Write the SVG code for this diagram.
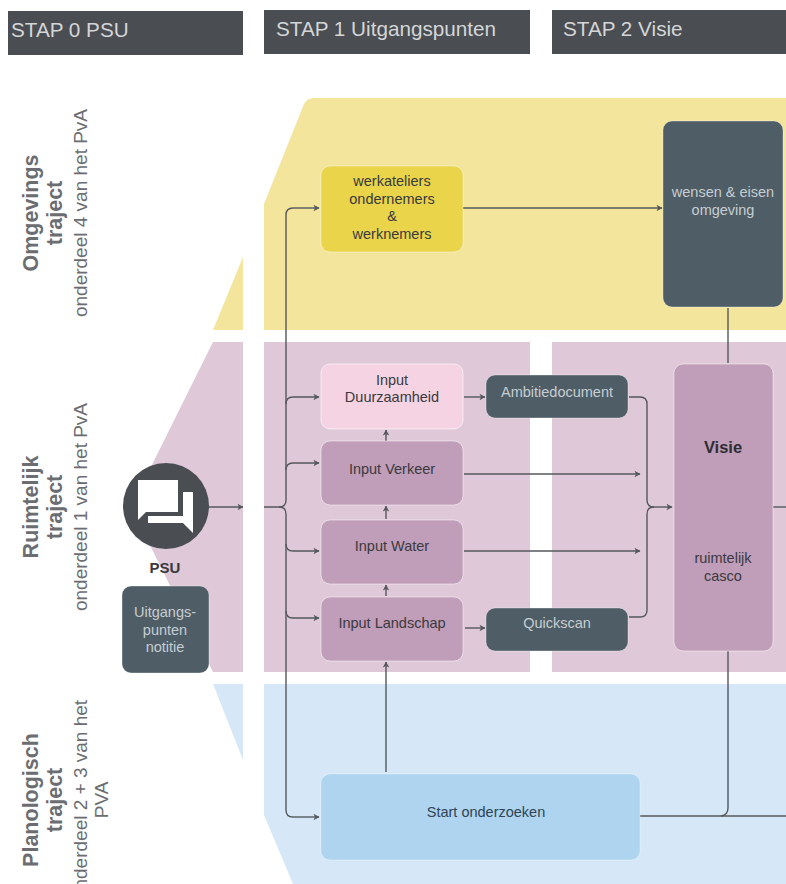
<svg xmlns="http://www.w3.org/2000/svg" width="786" height="884" viewBox="0 0 786 884">
<style>
text{font-family:"Liberation Sans",Arial,sans-serif;text-anchor:middle}
.hd{fill:#4a4d52}
.ht{font-size:20.7px;fill:#d4d6d8;text-anchor:start}
.t12{font-size:14.5px;fill:#3a3a3e}
.t12w{font-size:14.5px;fill:#c6cdd2}
.dark{fill:#4e5d66;stroke:#fff;stroke-opacity:.35}
.mauve{fill:#c09db8;stroke:#fff;stroke-opacity:.5}
.side1{font-size:21.5px;font-weight:bold;fill:#6b6d71}
.side2{font-size:19px;fill:#6b6d71}
.c{fill:none;stroke:#54585c;stroke-width:1.4}
</style>
<defs>
<marker id="a" markerWidth="8" markerHeight="8" refX="6.5" refY="4" orient="auto" markerUnits="userSpaceOnUse"><path d="M1 .8 L7 4 L1 7.2 L2.5 4Z" fill="#54585c"/></marker>
</defs>
<rect width="786" height="884" fill="#fff"/>
<g id="bands">
<path d="M243 257L243 330L213 330Z" fill="#f3e59c"/>
<path d="M264 204L304 104Q307 98 314 98L786 98L786 330L264 330Z" fill="#f3e59c"/>
<path d="M213 342L243 342L243 672L213 672L131 507Z" fill="#dfc8d8"/>
<rect x="264" y="342" width="266" height="330" fill="#dfc8d8"/>
<rect x="552" y="342" width="234" height="330" fill="#dfc8d8"/>
<path d="M213 684L243 684L243 760Z" fill="#d6e8f7"/>
<path d="M264 684L786 684L786 884L293 884L264 815Z" fill="#d6e8f7"/>
</g>
<g id="headers">
<g id="stap0"><rect class="hd" x="8" y="11" width="235" height="44"/><text class="ht" x="11" y="37">STAP 0 PSU</text></g>
<g id="stap1"><rect class="hd" x="264" y="10" width="266" height="44"/><text class="ht" x="276" y="36">STAP 1 Uitgangspunten</text></g>
<g id="stap2"><rect class="hd" x="552" y="10" width="234" height="44"/><text class="ht" x="563" y="36">STAP 2 Visie</text></g>
</g>
<g id="labels">
<g id="label-omgevings" transform="translate(0,213) rotate(-90)"><text class="side1" y="38">Omgevings</text><text class="side1" y="62">traject</text><text class="side2" y="87">onderdeel 4 van het PvA</text></g>
<g id="label-ruimtelijk" transform="translate(0,507) rotate(-90)"><text class="side1" y="38">Ruimtelijk</text><text class="side1" y="62">traject</text><text class="side2" y="87">onderdeel 1 van het PvA</text></g>
<g id="label-planologisch" transform="translate(0,800) rotate(-90)"><text class="side1" y="38">Planologisch</text><text class="side1" y="62">traject</text><text class="side2" y="87">onderdeel 2 + 3 van het</text><text class="side2" y="108">PVA</text></g>
</g>
<g id="connectors" class="c">
<path class="c" marker-end="url(#a)" d="M209 507L243 507"/>
<path class="c" d="M264 507L279 507Q286 507 286 500L286 215Q286 208 293 208"/>
<path class="c" marker-end="url(#a)" d="M293 208L319 208"/>
<path class="c" marker-end="url(#a)" d="M286 404Q286 397 293 397L319 397"/>
<path class="c" marker-end="url(#a)" d="M286 470Q286 463 293 463L319 463"/>
<path class="c" d="M279 507Q286 507 286 514L286 810Q286 817 293 817"/>
<path class="c" marker-end="url(#a)" d="M286 544Q286 551 293 551L319 551"/>
<path class="c" marker-end="url(#a)" d="M286 611Q286 618 293 618L319 618"/>
<path class="c" marker-end="url(#a)" d="M293 817L319 817"/>
<path class="c" marker-end="url(#a)" d="M463 208L662 208"/>
<path class="c" marker-end="url(#a)" d="M464 397L485 397"/>
<path class="c" marker-end="url(#a)" d="M464 474L640 474"/>
<path class="c" marker-end="url(#a)" d="M464 551L640 551"/>
<path class="c" marker-end="url(#a)" d="M465 628L485 628"/>
<path class="c" marker-end="url(#a)" d="M386 441L386 430"/>
<path class="c" marker-end="url(#a)" d="M386 519L386 506"/>
<path class="c" marker-end="url(#a)" d="M386 596L386 585"/>
<path class="c" marker-end="url(#a)" d="M386 772L386 662"/>
<path class="c" d="M629 397L640 397Q647 397 647 404L647 500Q647 507 654 507"/>
<path class="c" d="M629 617L640 617Q647 617 647 610L647 514Q647 507 654 507"/>
<path class="c" marker-end="url(#a)" d="M654 507L672 507"/>
<path class="c" d="M773 507L786 507"/>
<path class="c" d="M728 308L728 363"/>
<path class="c" d="M728 651L728 808Q728 815 721 816"/>
<path class="c" d="M640 816L786 816"/>
</g>
<g id="node-psu">
<circle cx="166" cy="506" r="43" fill="#4a4d52"/>
<path d="M138 480L178 480L178 512L146 512L138 520Z" fill="#fff"/>
<path d="M183 492L193 492L193 533L183 523L148 523L148 516L183 516Z" fill="#fff"/>
<text x="165" y="573" font-size="15" font-weight="bold" fill="#3a3a3e">PSU</text>
</g>
<g id="node-uitgangspunten"><rect class="dark" x="122" y="586" width="87" height="87" rx="9"/><text class="t12w" x="165" y="617">Uitgangs-</text><text class="t12w" x="165" y="635">punten</text><text class="t12w" x="165" y="652">notitie</text></g>
<g id="node-werkateliers"><rect x="321" y="166" width="142" height="86" rx="9" fill="#e9d44a" stroke="#fff" stroke-opacity=".4"/><text class="t12" x="392" y="186">werkateliers</text><text class="t12" x="392" y="204">ondernemers</text><text class="t12" x="392" y="221">&amp;</text><text class="t12" x="392" y="239">werknemers</text></g>
<g id="node-wensen"><rect class="dark" x="663" y="121" width="120" height="186" rx="9"/><text class="t12w" x="723" y="197">wensen &amp; eisen</text><text class="t12w" x="723" y="215">omgeving</text></g>
<g id="node-duurzaamheid"><rect x="321" y="364" width="142" height="65" rx="9" fill="#f5d3e3" stroke="#fff" stroke-opacity=".6"/><text class="t12" x="392" y="385">Input</text><text class="t12" x="392" y="402">Duurzaamheid</text></g>
<g id="node-verkeer"><rect class="mauve" x="321" y="441" width="142" height="64" rx="9"/><text class="t12" x="392" y="474">Input Verkeer</text></g>
<g id="node-water"><rect class="mauve" x="321" y="520" width="142" height="64" rx="9"/><text class="t12" x="392" y="551">Input Water</text></g>
<g id="node-landschap"><rect class="mauve" x="321" y="597" width="142" height="64" rx="9"/><text class="t12" x="392" y="628">Input Landschap</text></g>
<g id="node-ambitie"><rect class="dark" x="486" y="375" width="142" height="43" rx="9"/><text class="t12w" x="557" y="397">Ambitiedocument</text></g>
<g id="node-quickscan"><rect class="dark" x="486" y="608" width="142" height="43" rx="9"/><text class="t12w" x="557" y="628">Quickscan</text></g>
<g id="node-visie"><rect class="mauve" x="674" y="364" width="99" height="287" rx="9"/><text x="723" y="453" font-size="16.5" font-weight="bold" fill="#2e2e32">Visie</text><text class="t12" x="723" y="563">ruimtelijk</text><text class="t12" x="723" y="581">casco</text></g>
<g id="node-start"><rect x="321" y="774" width="319" height="86" rx="9" fill="#aed4ef" stroke="#fff" stroke-opacity=".3"/><text x="486" y="817" font-size="14.5" fill="#2f4454">Start onderzoeken</text></g>
</svg>
